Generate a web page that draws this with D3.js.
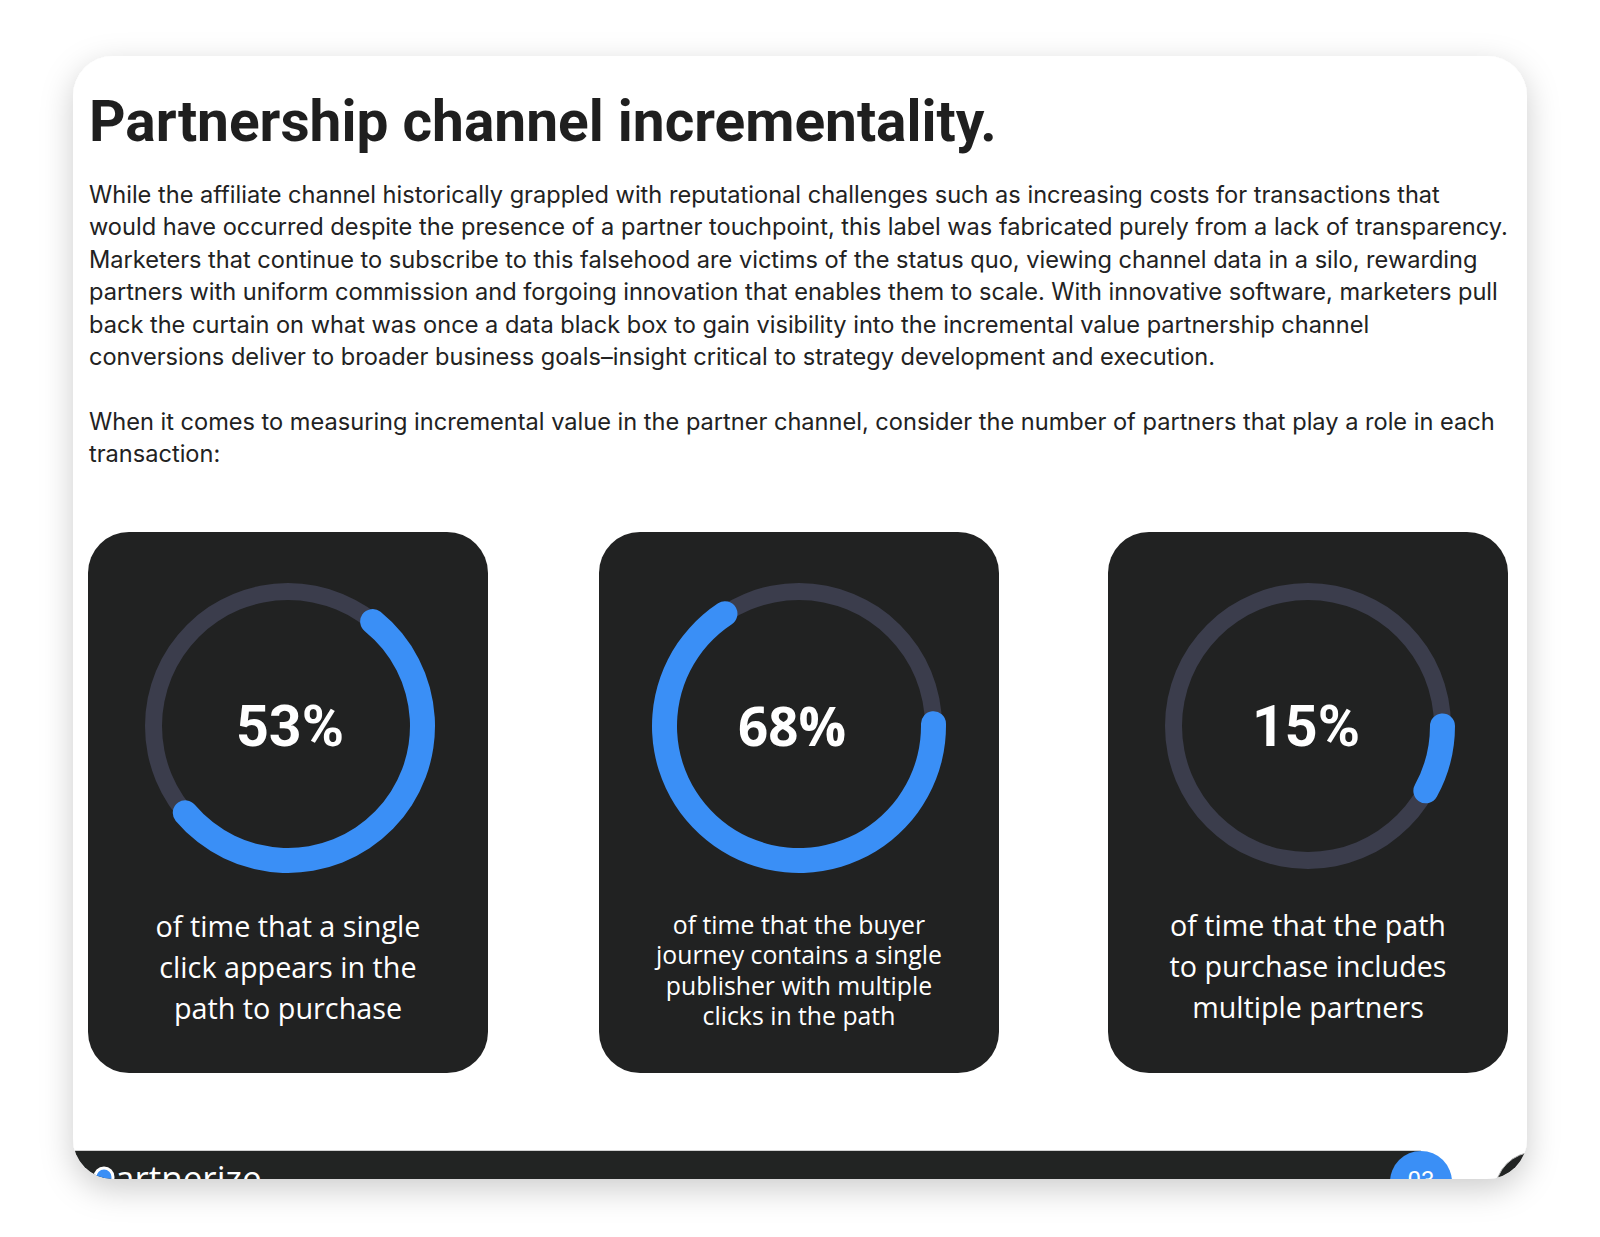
<!DOCTYPE html>
<html>
<head>
<meta charset="utf-8">
<script src="https://cdn.jsdelivr.net/npm/d3@7"></script>
<style>
  html, body { margin: 0; padding: 0; background: #fff; }
  svg { display: block; }
</style>
</head>
<body>
<svg id="page"></svg>
<script>
// ---- content ----
const title = 'Partnership channel incrementality.';
const bodyLines = [
  'While the affiliate channel historically grappled with reputational challenges such as increasing costs for transactions that',
  'would have occurred despite the presence of a partner touchpoint, this label was fabricated purely from a lack of transparency.',
  'Marketers that continue to subscribe to this falsehood are victims of the status quo, viewing channel data in a silo, rewarding',
  'partners with uniform commission and forgoing innovation that enables them to scale. With innovative software, marketers pull',
  'back the curtain on what was once a data black box to gain visibility into the incremental value partnership channel',
  'conversions deliver to broader business goals\u2013insight critical to strategy development and execution.'
];
const introLines = [
  'When it comes to measuring incremental value in the partner channel, consider the number of partners that play a role in each',
  'transaction:'
];
const percents = [53, 68, 15];
// length of the blue ring as it is drawn, % of the full circle
const arcShare = [53, 66, 8];
const captions = [
  ['of time that a single', 'click appears in the', 'path to purchase'],
  ['of time that the buyer', 'journey contains a single', 'publisher with multiple', 'clicks in the path'],
  ['of time that the path', 'to purchase includes', 'multiple partners']
];
const pageNo = '03';

// ---- layout ----
const W = 1600, H = 1237;
const sheet = {x: 73, y: 56, w: 1454, h: 1123, r: 40};
const cardX = [88, 599, 1108], cardY = 532, cardW = 400, cardH = 541, cardR = 41;
const ringCY = 194, ringR = 134.5, trackW = 17, barW = 25;
const ringStartDeg = [39, 89, 90];
const capFont = [{w: 265, base: 405, lh: 41}, {w: 286, base: 402, lh: 30.3}, {w: 277, base: 403.5, lh: 41}];
const pctFont = ['Roboto', 'Open Sans', 'Roboto'];
const pctDx = [2, -7, -2];

const svg = d3.select('#page').attr('width', W).attr('height', H);
const defs = svg.append('defs');

const shadow = defs.append('filter').attr('id', 'shadow')
  .attr('x', '-10%').attr('y', '-10%').attr('width', '120%').attr('height', '125%');
shadow.append('feDropShadow').attr('dx', 0).attr('dy', 10)
  .attr('stdDeviation', 16).attr('flood-color', '#000').attr('flood-opacity', 0.2);

defs.append('clipPath').attr('id', 'sheetClip').append('rect')
  .attr('x', sheet.x).attr('y', sheet.y).attr('width', sheet.w).attr('height', sheet.h)
  .attr('rx', sheet.r).attr('ry', sheet.r);

svg.append('rect')
  .attr('x', sheet.x).attr('y', sheet.y).attr('width', sheet.w).attr('height', sheet.h)
  .attr('rx', sheet.r).attr('ry', sheet.r)
  .attr('fill', '#fff').attr('filter', 'url(#shadow)');

const g = svg.append('g').attr('clip-path', 'url(#sheetClip)');

// fit a set of lines so the widest one spans `target` px
function fitSize(sel, target) {
  let maxW = 0;
  sel.each(function(){ maxW = Math.max(maxW, this.getComputedTextLength()); });
  return 100 * target / maxW;
}

// title
const t = g.append('text').text(title)
  .attr('x', 89).attr('y', 141)
  .attr('font-family', 'Roboto').attr('font-weight', 700)
  .attr('font-size', 100).attr('fill', '#1f1f1f');
t.attr('font-size', fitSize(t, 908));

// body paragraphs
const allLines = bodyLines.map((s, i) => ({s, y: 203 + i * 32.45}))
  .concat(introLines.map((s, i) => ({s, y: 429.6 + i * 32.45})));
const body = g.append('g').selectAll('text').data(allLines).enter().append('text')
  .text(d => d.s).attr('x', 89).attr('y', d => d.y)
  .attr('font-family', 'Inter').attr('font-size', 100).attr('fill', '#222');
body.attr('font-size', fitSize(body.filter((d, i) => i === 1), 1419));

// cards
const angle = d3.scaleLinear().domain([0, 100]).range([0, 2 * Math.PI]);
const capAngle = (barW / 2) / ringR;
const track = d3.arc().innerRadius(ringR - trackW / 2).outerRadius(ringR + trackW / 2)
  .startAngle(0).endAngle(2 * Math.PI);
const bar = d3.arc().innerRadius(ringR - barW / 2).outerRadius(ringR + barW / 2)
  .cornerRadius(barW / 2);

const cards = g.selectAll('g.card').data(percents).enter().append('g')
  .attr('class', 'card')
  .attr('transform', (d, i) => 'translate(' + cardX[i] + ',' + cardY + ')');

cards.append('rect').attr('width', cardW).attr('height', cardH)
  .attr('rx', cardR).attr('ry', cardR).attr('fill', '#212222');

const rings = cards.append('g').attr('transform', 'translate(' + cardW / 2 + ',' + ringCY + ')');
rings.append('path').attr('d', track()).attr('fill', '#3b3d4c');
rings.append('path').attr('fill', '#3a8ff6')
  .attr('d', (d, i) => {
    const a0 = ringStartDeg[i] * Math.PI / 180;
    return bar({startAngle: a0 - capAngle, endAngle: a0 + angle(arcShare[i]) + capAngle});
  });

rings.each(function(d, i){
  const lbl = d3.select(this).append('text').text(d + '%')
    .attr('x', pctDx[i]).attr('y', 20).attr('text-anchor', 'middle')
    .attr('font-family', pctFont[i]).attr('font-weight', 700)
    .attr('font-size', 100).attr('fill', '#fff');
  lbl.attr('font-size', fitSize(lbl, 108));
});

cards.each(function(d, i){
  const f = capFont[i];
  const lines = d3.select(this).append('g').selectAll('text').data(captions[i]).enter().append('text')
    .text(s => s).attr('x', cardW / 2).attr('y', (s, j) => f.base + j * f.lh)
    .attr('text-anchor', 'middle')
    .attr('font-family', 'Open Sans').attr('font-weight', 500)
    .attr('font-size', 100).attr('fill', '#fff');
  lines.attr('font-size', fitSize(lines, f.w));
});

// footer strip, cut off by the sheet edge
const footY = 1151;
g.append('rect').attr('x', sheet.x).attr('y', footY - 1).attr('width', 1421 - sheet.x).attr('height', 1)
  .attr('fill', '#d0d0d0');
g.append('rect').attr('x', sheet.x).attr('y', footY).attr('width', 1421 - sheet.x).attr('height', 60)
  .attr('fill', '#222423');

g.append('circle').attr('cx', 104).attr('cy', 1177).attr('r', 9)
  .attr('fill', '#3a8ff6').attr('stroke', '#fff').attr('stroke-width', 3);
g.append('text').text('artnerize').attr('x', 115).attr('y', 1191)
  .attr('font-family', 'Open Sans').attr('font-size', 35).attr('fill', '#fff');

g.append('circle').attr('cx', 1421).attr('cy', 1182).attr('r', 31).attr('fill', '#3a8ff6');
g.append('text').text(pageNo).attr('x', 1421).attr('y', 1188).attr('text-anchor', 'middle')
  .attr('font-family', 'Roboto').attr('font-size', 24).attr('fill', '#fff');

g.append('circle').attr('cx', 1535).attr('cy', 1192).attr('r', 40)
  .attr('fill', '#222423').attr('stroke', '#bbb').attr('stroke-width', 1);
</script>
</body>
</html>
